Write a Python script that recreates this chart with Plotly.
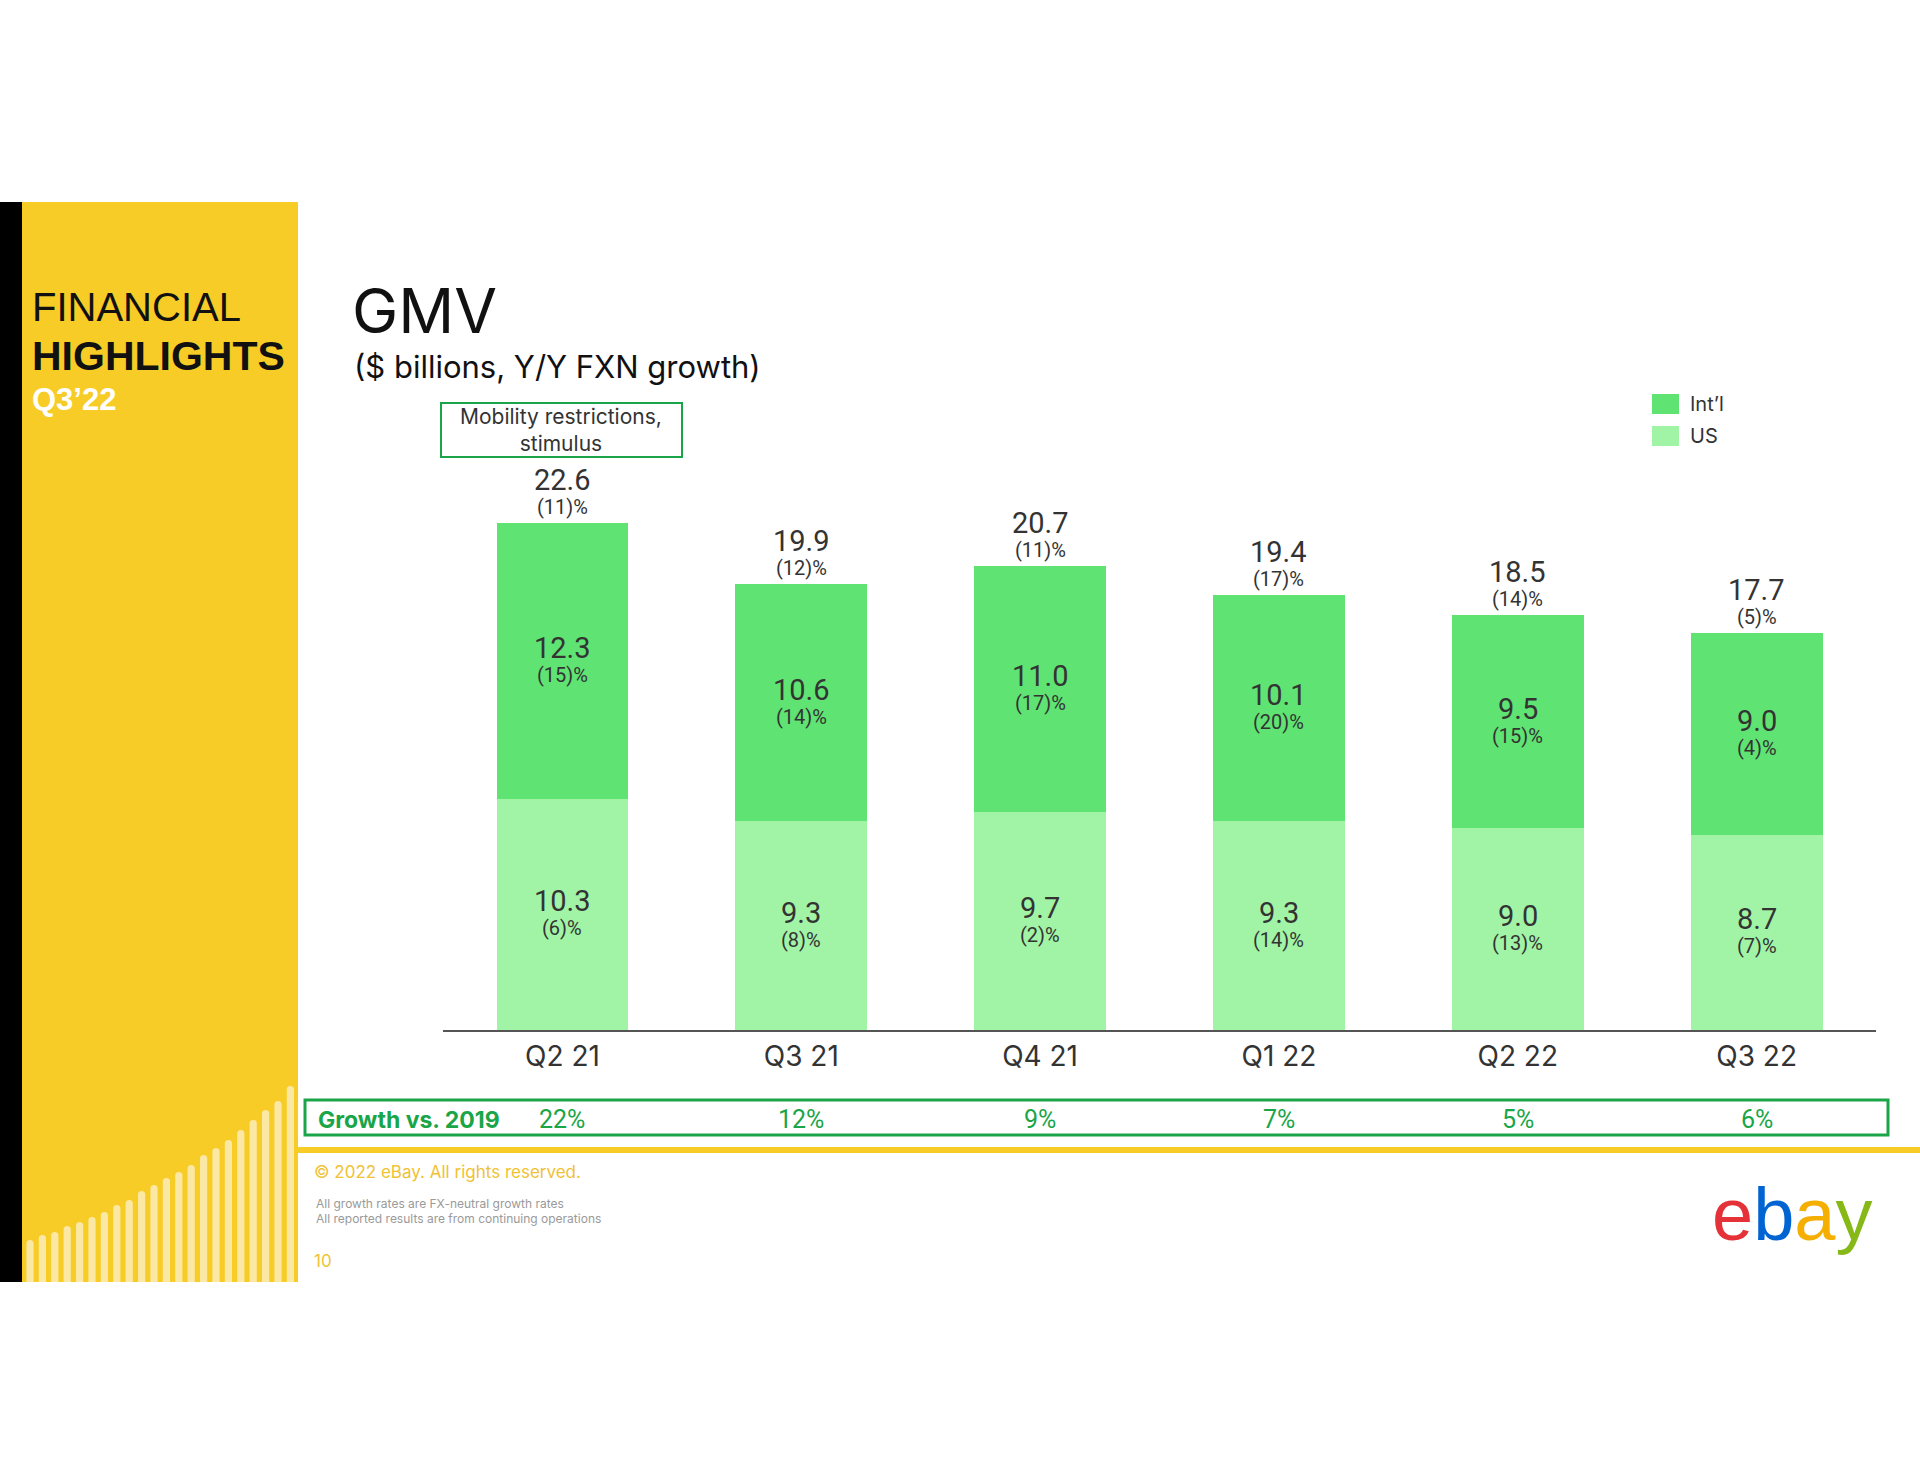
import plotly.graph_objects as go

# ---------------- data ----------------
quarters = ["Q2 21", "Q3 21", "Q4 21", "Q1 22", "Q2 22", "Q3 22"]
us_gmv = [10.3, 9.3, 9.7, 9.3, 9.0, 8.7]
intl_gmv = [12.3, 10.6, 11.0, 10.1, 9.5, 9.0]
total_gmv = [22.6, 19.9, 20.7, 19.4, 18.5, 17.7]
us_growth = ["(6)%", "(8)%", "(2)%", "(14)%", "(13)%", "(7)%"]
intl_growth = ["(15)%", "(14)%", "(17)%", "(20)%", "(15)%", "(4)%"]
total_growth = ["(11)%", "(12)%", "(11)%", "(17)%", "(14)%", "(5)%"]
growth_vs_2019 = ["22%", "12%", "9%", "7%", "5%", "6%"]
series_names = ["Int’l", "US"]
deco_heights = [42, 47, 50, 56, 60, 65, 70, 77, 82, 91, 97, 104, 110, 117,
                127, 134, 142, 152, 162, 172, 181, 196]

# ---------------- geometry helpers ----------------
W, H = 1920, 1484
OFF = 0  # body margin removed via post_script
def px(x):
    return (x - OFF) / W
def py(y):
    return 1 - (y - OFF) / H

C_INTL = "#5fe373"
C_US = "#a1f4a6"
C_GREEN = "#1aa548"
C_YEL = "#f8cc26"
C_TXT = "#333333"
FONT = "Inter"
NUMFONT = "Roboto"

fig = go.Figure()
fig.add_trace(go.Bar(x=quarters, y=us_gmv, name=series_names[1],
                     marker=dict(color=C_US, line=dict(width=0)), hoverinfo="skip"))
fig.add_trace(go.Bar(x=quarters, y=intl_gmv, name=series_names[0],
                     marker=dict(color=C_INTL, line=dict(width=0)), hoverinfo="skip"))

ann = []
for i, q in enumerate(quarters):
    us_mid = us_gmv[i] / 2
    in_mid = us_gmv[i] + intl_gmv[i] / 2
    for mid, val, g in [(us_mid, us_gmv[i], us_growth[i]), (in_mid, intl_gmv[i], intl_growth[i])]:
        ann.append(dict(x=q, y=mid, xref="x", yref="y", text=f"{val:.1f}", showarrow=False,
                        yshift=13, yanchor="middle", font=dict(family=NUMFONT, size=29, color=C_TXT)))
        ann.append(dict(x=q, y=mid, xref="x", yref="y", text=g, showarrow=False,
                        yshift=-14, yanchor="middle", font=dict(family=NUMFONT, size=20, color=C_TXT)))
    ann.append(dict(x=q, y=total_gmv[i], xref="x", yref="y", text=f"{total_gmv[i]:.1f}", showarrow=False,
                    yshift=43, yanchor="middle", font=dict(family=NUMFONT, size=29, color=C_TXT)))
    ann.append(dict(x=q, y=total_gmv[i], xref="x", yref="y", text=total_growth[i], showarrow=False,
                    yshift=16, yanchor="middle", font=dict(family=NUMFONT, size=20, color=C_TXT)))
    ann.append(dict(x=q, y=py(1119), xref="x", yref="paper", text=growth_vs_2019[i], showarrow=False,
                    yanchor="middle", font=dict(family=NUMFONT, size=25, color=C_GREEN)))

def txt(x, y, text, size, color, family=FONT, xanchor="left", yanchor="middle", **kw):
    ann.append(dict(x=px(x), y=py(y), xref="paper", yref="paper", text=text, showarrow=False,
                    xanchor=xanchor, yanchor=yanchor, font=dict(family=family, size=size, color=color), **kw))

txt(30, 307, "FINANCIAL", 40, "#111111", family="Liberation Sans")
txt(30, 356, "<b>HIGHLIGHTS</b>", 41, "#111111", family="Liberation Sans")
txt(30, 399, "<b>Q3’22</b>", 31, "#ffffff", family="Liberation Sans")
txt(350, 311, "GMV", 62, "#111111")
txt(352, 366, "($ billions, Y/Y FXN growth)", 31, "#111111")
txt(561, 430, "Mobility restrictions,<br>stimulus", 21, C_TXT, xanchor="center")
txt(316, 1120, "<b>Growth vs. 2019</b>", 23, C_GREEN)
txt(312, 1172, "© 2022 eBay. All rights reserved.", 17, "#f0c234")
txt(314, 1203, "All growth rates are FX-neutral growth rates", 12, "#9a9a9a")
txt(314, 1218, "All reported results are from continuing operations", 12, "#9a9a9a")
txt(312, 1261, "10", 17, "#f0c234")
txt(1792, 1214,
    "<span style='color:#e53238'>e</span><span style='color:#0064d2'>b</span>"
    "<span style='color:#f5af02'>a</span><span style='color:#86b817'>y</span>",
    74, "#000", family="Liberation Sans", xanchor="center")
txt(1688, 404, series_names[0], 20, C_TXT)
txt(1688, 436, series_names[1], 20, C_TXT)

shapes = []
def rect(x0, y0, x1, y1, fill=None, line=None, lw=0):
    shapes.append(dict(type="rect", xref="paper", yref="paper", x0=px(x0), x1=px(x1), y0=py(y1), y1=py(y0),
                       fillcolor=fill if fill else "rgba(0,0,0,0)",
                       line=dict(color=line if line else "rgba(0,0,0,0)", width=lw),
                       layer="below" if fill else "above"))

rect(0, 202, 22, 1282, fill="#000000")
rect(22, 202, 298, 1282, fill=C_YEL)
rect(298, 1147, 1930, 1153, fill=C_YEL)
for k, h in enumerate(deco_heights):
    cx = 30 + k * 12.4
    x0, x1 = cx - 3.6, cx + 3.6
    top = 1282 - h
    r = 3.6
    path = (f"M {px(x0)},{py(1282)} L {px(x0)},{py(top + r)} "
            f"Q {px(x0)},{py(top)} {px(cx)},{py(top)} Q {px(x1)},{py(top)} {px(x1)},{py(top + r)} "
            f"L {px(x1)},{py(1282)} Z")
    shapes.append(dict(type="path", xref="paper", yref="paper", path=path, fillcolor="#fbe8a4",
                       line=dict(width=0), layer="below"))
rect(305, 1100, 1888, 1135, line=C_GREEN, lw=3)
rect(441, 403, 682, 457, line=C_GREEN, lw=2)
rect(1652, 394, 1679, 414, fill=C_INTL)
rect(1652, 426, 1679, 446, fill=C_US)

fig.update_layout(
    width=W, height=H,
    margin=dict(l=0, r=0, t=0, b=0),
    paper_bgcolor="white", plot_bgcolor="white",
    barmode="stack", bargap=0.448,
    showlegend=False,
    hovermode=False,
    xaxis=dict(domain=[px(443), px(1876)], range=[-0.5, 5.5], showline=True, linecolor="#555555",
               linewidth=2, showgrid=False, zeroline=False, ticks="",
               tickfont=dict(family=FONT, size=28, color=C_TXT), fixedrange=True),
    yaxis=dict(domain=[py(1030), py(400)], range=[0, (1030 - 400) / 22.43], visible=False,
               showgrid=False, zeroline=False, fixedrange=True),
    annotations=ann,
    shapes=shapes,
)

fig.write_html("out.html", config={"displayModeBar": False},
               post_script="document.body.style.margin='0px';")
